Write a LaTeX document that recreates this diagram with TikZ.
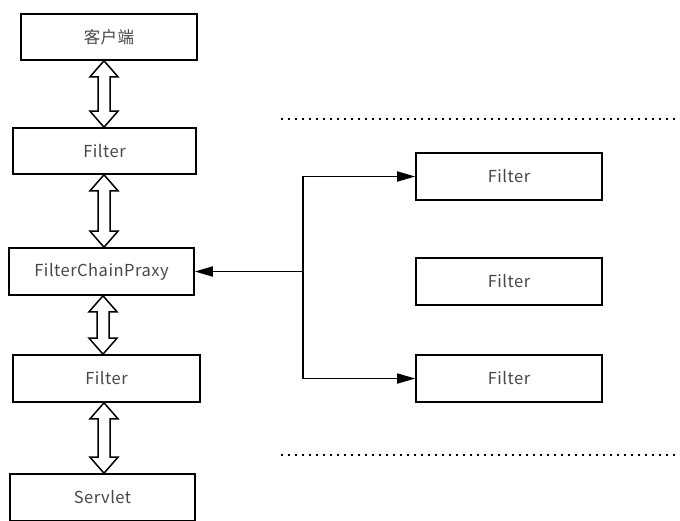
\documentclass[tikz,border=0pt]{standalone}
\usepackage{fontspec}
\setmainfont[LetterSpace=3]{Noto Sans CJK SC}
\usetikzlibrary{arrows.meta,calc}
\begin{document}
\begin{tikzpicture}[x=1pt,y=-1pt,
  box/.style={draw, line width=1.6pt, inner sep=0pt, font=\fontsize{16.5}{18}\selectfont, text=black!72},
  lbox/.style={box, minimum height=47pt},
  conn/.style={line width=1.7pt},
  tip/.style={-{Triangle[length=18pt,width=10pt]}},
  dots/.style={line width=1.8pt, dash pattern=on 1.8pt off 5.2pt}
]
\useasboundingbox (0,0) rectangle (680,520);
\node[box, minimum width=176pt, minimum height=46pt] (c) at (109,37) {客户端};
\node[box, minimum width=183pt, minimum height=46pt] (f1) at (104.5,151) {Filter};
\node[lbox, minimum width=185pt] (fcp) at (101.5,271.5) {FilterChainPraxy};
\node[lbox, minimum width=187pt] (f2) at (106.5,378.5) {Filter};
\node[lbox, minimum width=185pt] (sv) at (102.5,497.5) {Servlet};
\node[lbox, minimum width=186pt] (ra) at (509,176.5) {Filter};
\node[lbox, minimum width=186pt] (rb) at (509,281.5) {Filter};
\node[lbox, minimum width=186pt] (rc) at (509,378.5) {Filter};

\newcommand\hollowdbl[3]{%
  \draw[line width=1.5pt, line join=miter] let \p1=(#2.south), \p2=(#3.north) in
    (#1,\y1) -- (#1+14,\y1-16pt) -- (#1+6,\y1-16pt) -- (#1+6,\y2+16pt) -- (#1+14,\y2+16pt)
    -- (#1,\y2) -- (#1-14,\y2+16pt) -- (#1-6,\y2+16pt) -- (#1-6,\y1-16pt) -- (#1-14,\y1-16pt) -- cycle;}
\hollowdbl{104}{c}{f1}
\hollowdbl{104}{f1}{fcp}
\hollowdbl{103}{fcp}{f2}
\hollowdbl{104}{f2}{sv}

\coordinate (j) at (303,271.5);
\draw[conn, tip] (j) -- (fcp.east);
\draw[conn, tip] (j) |- (ra.west);
\draw[conn, tip] (j) |- (rc.west);

\coordinate (d1a) at (281,119);
\coordinate (d1b) at (680,119);
\coordinate (d2a) at (281,455);
\coordinate (d2b) at (680,455);
\draw[dots] (d1a) -- (d1b);
\draw[dots] (d2a) -- (d2b);
\end{tikzpicture}
\end{document}
